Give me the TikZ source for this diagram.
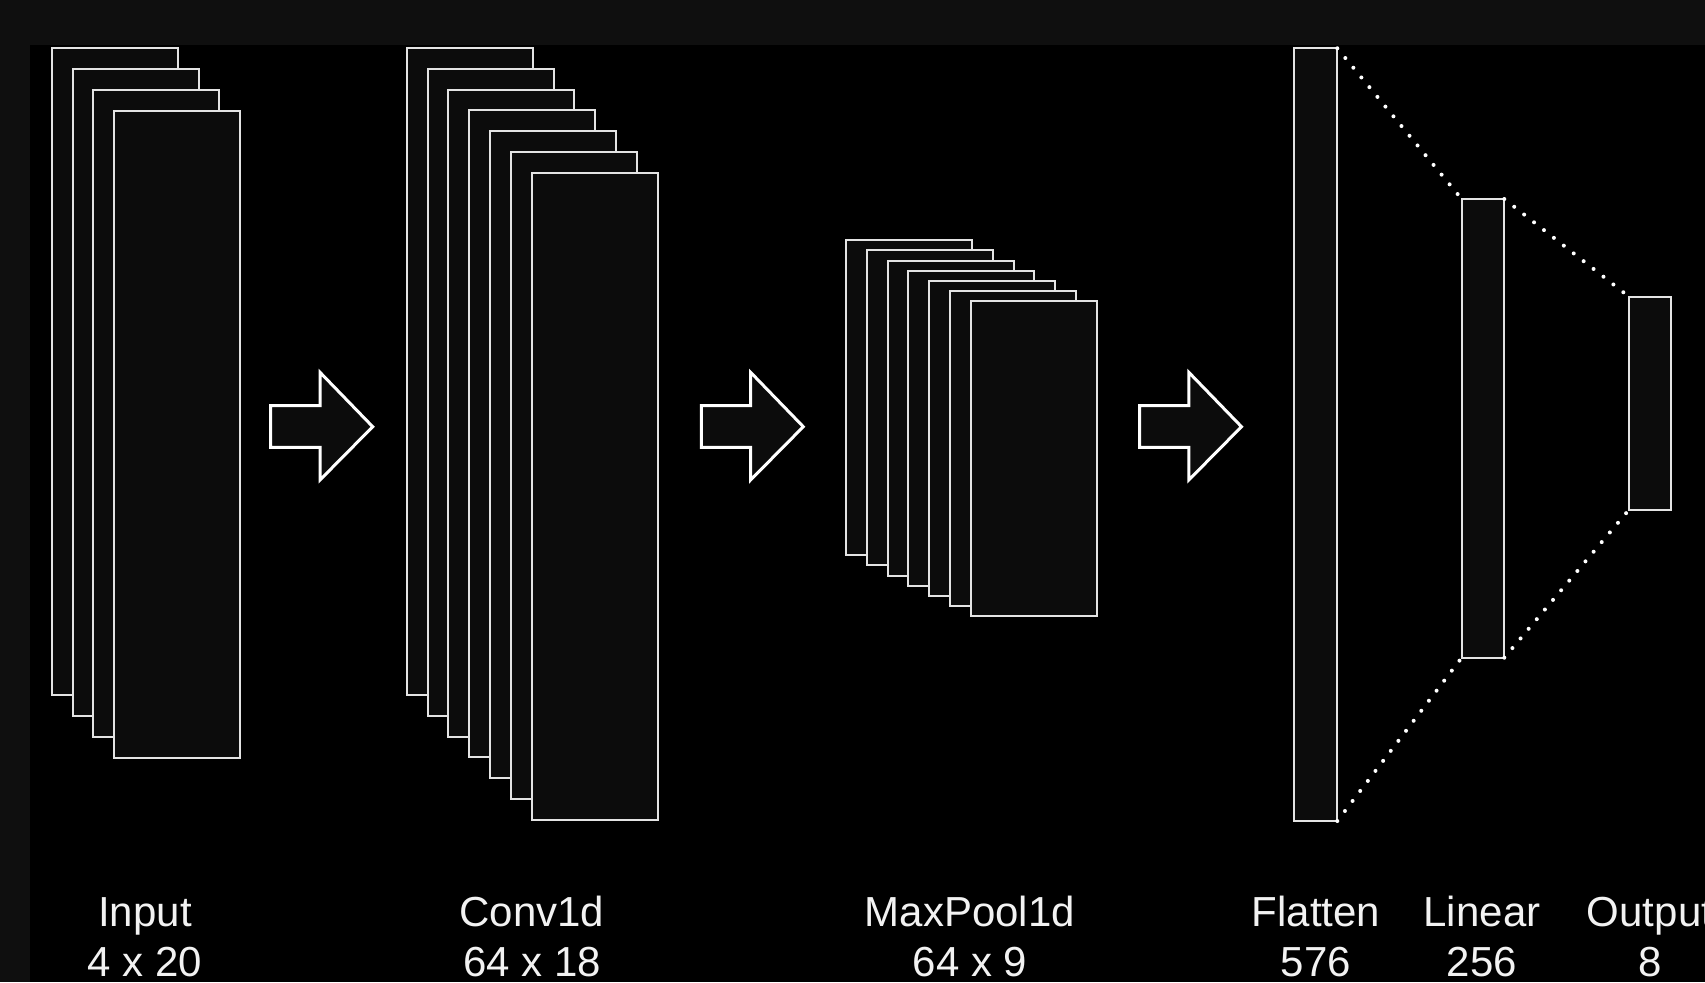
\documentclass[tikz,border=0pt]{standalone}
\usepackage{fontspec}
\setmainfont{Liberation Sans}
\definecolor{outerc}{HTML}{0F0F0F}
\definecolor{fillc}{HTML}{0C0C0C}
\definecolor{linec}{HTML}{E4E4E4}
\definecolor{textc}{HTML}{F2F2F2}
\begin{document}
\begin{tikzpicture}[x=0.5pt,y=-0.5pt,
  layer/.style={draw=linec, fill=fillc, line width=1pt, inner sep=0pt, outer sep=0pt, anchor=north west},
  tall/.style={minimum width=63pt, minimum height=323.5pt},
  short/.style={minimum width=63pt, minimum height=157.5pt},
  flowarrow/.style={draw=white, fill=fillc, line width=1.5pt, line join=miter},
  dots/.style={draw=white, line width=2pt, line cap=round, dash pattern=on 0pt off 6.3pt},
  lbl/.style={text=textc, font=\fontsize{21pt}{25pt}\selectfont, inner sep=0pt, anchor=base}]
\useasboundingbox (0,0) rectangle (1705,982);
\fill[outerc] (0,0) rectangle (1705,982);
\fill[black] (30,45) rectangle (1705,982);

% Input stack
\foreach \i in {0,...,3}
  \node[layer, tall] (in\i) at ({51.7+20.8*\i},{48.3+20.8*\i}) {};
% Conv1d stack
\foreach \i in {0,...,6}
  \node[layer, tall] (cv\i) at ({406.7+20.83*\i},{47.8+20.85*\i}) {};
% MaxPool1d stack
\foreach \i in {0,...,6}
  \node[layer, short] (mp\i) at ({845.7+20.9*\i},{240.3+10.1*\i}) {};

% flow arrows
\foreach \ax in {270.7,701.3,1139.5}
  \draw[flowarrow, shift={(\ax,0)}] (0,405.7) -- (49.3,405.7) -- (49.3,372.3) -- (102,426.7)
     -- (49.3,480) -- (49.3,447.3) -- (0,447.3) -- cycle;

% dense layers
\node[layer, minimum width=21.5pt, minimum height=386.35pt] (flat) at (1294.3,48.3) {};
\node[layer, minimum width=21.3pt, minimum height=229.35pt] (lin) at (1461.7,199) {};
\node[layer, minimum width=21pt, minimum height=106.5pt] (out) at (1629,296.7) {};

\draw[dots] (flat.north east) -- (lin.north west);
\draw[dots] (flat.south east) -- (lin.south west);
\draw[dots] (lin.north east) -- (out.north west);
\draw[dots] (lin.south east) -- (out.south west);

% labels
\node[lbl] (tIn) at (145,926.7) {Input};
\node[lbl] (sIn) at (145,976.7) {4 x 20};
\node[lbl] (tCv) at (532,926.7) {Conv1d};
\node[lbl] (sCv) at (532,976.7) {64 x 18};
\node[lbl] (tMp) at (970,926.7) {MaxPool1d};
\node[lbl] (sMp) at (970,976.7) {64 x 9};
\node[lbl] (tFl) at (1316,926.7) {Flatten};
\node[lbl] (sFl) at (1316,976.7) {576};
\node[lbl] (tLi) at (1482,926.7) {Linear};
\node[lbl] (sLi) at (1482,976.7) {256};
\node[lbl] (tOu) at (1650,926.7) {Output};
\node[lbl] (sOu) at (1650,976.7) {8};
\end{tikzpicture}
\end{document}
